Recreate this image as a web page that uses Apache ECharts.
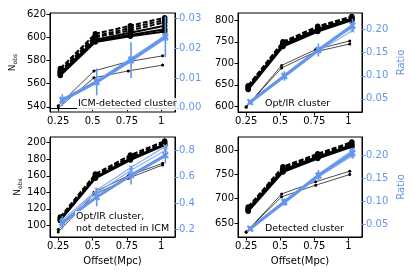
<!DOCTYPE html>
<html><head><meta charset="utf-8">
<script src="https://cdn.jsdelivr.net/npm/echarts@6/dist/echarts.min.js"></script>
<style>html,body{margin:0;padding:0;background:#fff}#c{width:415px;height:277px}</style>
</head><body><div id="c"></div>
<script>
// shared x positions (small horizontal offsets between groups, as in the figure)
const xThin  = [0.25, 0.51, 0.76, 1.01];
const xThick = [0.265, 0.52, 0.775, 1.025];
const xBlue  = [0.28, 0.53, 0.78, 1.03];
const xTicks = [0.25, 0.5, 0.75, 1];
const xTickLabels = ['0.25', '0.5', '0.75', '1'];

// Panel 1: ICM-detected cluster
const p1Label = 'ICM-detected cluster';
const p1Thick = [[573,603,610,617],[571,601,608,615],[570,600,606,613],[569,598,604,610],[568,597,602,607],[567,596,601,605]];
const p1Dashed = [true, true, true, false, false, false];
const p1Thin = [[541,571,579,584],[539,565,571,576]];
const p1Blue = [0.0026, 0.0087, 0.0160, 0.0238];
const p1BlueErr = [0.002, 0.0045, 0.006, 0.0068];
const p1BlueAlt = [[0.0022,0.0083,0.0155,0.0232],[0.0030,0.0091,0.0166,0.0243]];
const p1LeftTicks = [540, 560, 580, 600, 620];
const p1RightTicks = [0, 0.01, 0.02, 0.03];

// Panel 2: Opt/IR cluster
const p2Label = 'Opt/IR cluster';
const p2Thick = [[648,750,786,809],[646,747,783,807],[643,744,780,804],[641,741,777,802],[639,739,774,800]];
const p2Dashed = [true, true, false, false, false];
const p2Thin = [[598,695,732,752],[599,689,727,745]];
const p2Blue = [0.043, 0.0995, 0.156, 0.209];
const p2BlueErr = [0.005, 0.01, 0.014, 0.014];
const p2BlueAlt = [[0.041,0.097,0.153,0.198],[0.045,0.102,0.158,0.204]];
const p2LeftTicks = [600, 650, 700, 750, 800];
const p2RightTicks = [0.05, 0.10, 0.15, 0.20];

// Panel 3: Opt/IR cluster, not detected in ICM
const p3Label = 'Opt/IR cluster,\nnot detected in ICM';
const p3Thick = [[110,162,185,202],[108,160,183,200],[107,158,181,198],[106,157,179,197]];
const p3Dashed = [true, true, false, false];
const p3Thin = [[92,137,157,173],[95,140,160,175]];
const p3Blue = [0.253, 0.447, 0.611, 0.762];
const p3BlueErr = [0.05, 0.07, 0.07, 0.06];
const p3BlueAlt = [[0.27,0.50,0.67,0.83],[0.26,0.48,0.65,0.80]];
const p3LeftTicks = [100, 120, 140, 160, 180, 200];
const p3RightTicks = [0.2, 0.4, 0.6, 0.8];

// Panel 4: Detected cluster
const p4Label = 'Detected cluster';
const p4Thick = [[683,766,793,817],[680,763,790,814],[678,760,787,811],[676,757,785,809],[674,755,783,807]];
const p4Dashed = [true, true, false, false, false];
const p4Thin = [[631,710,735,757],[632,704,728,750]];
const p4Blue = [0.0406, 0.0986, 0.1565, 0.205];
const p4BlueErr = [0.004, 0.008, 0.012, 0.012];
const p4BlueAlt = [[0.039,0.096,0.153,0.199],[0.042,0.101,0.159,0.211]];
const p4LeftTicks = [650, 700, 750, 800];
const p4RightTicks = [0.05, 0.10, 0.15, 0.20];

const BLUE = '#6495ED';
const FONT = 'DejaVu Sans';

const panels = [
  {label:p1Label, thick:p1Thick, dashed:p1Dashed, thin:p1Thin, blue:p1Blue, err:p1BlueErr, alt:p1BlueAlt,
   lt:p1LeftTicks, rt:p1RightTicks, lmin:535.5, lmax:621, rmin:-0.0014, rmax:0.0318, rdec:2,
   grid:{left:50, top:13, width:125, height:99}, nobs:true, ratio:false, xname:false, nobsGap:32, lx:77, ly:98},
  {label:p2Label, thick:p2Thick, dashed:p2Dashed, thin:p2Thin, blue:p2Blue, err:p2BlueErr, alt:p2BlueAlt,
   lt:p2LeftTicks, rt:p2RightTicks, lmin:586.7, lmax:817, rmin:0.0216, rmax:0.236, rdec:2,
   grid:{left:238, top:13, width:124, height:99}, nobs:false, ratio:true, xname:false, lx:264, ly:98},
  {label:p3Label, thick:p3Thick, dashed:p3Dashed, thin:p3Thin, blue:p3Blue, err:p3BlueErr, alt:p3BlueAlt,
   lt:p3LeftTicks, rt:p3RightTicks, lmin:85.9, lmax:206.9, rmin:0.1445, rmax:0.901, rdec:1,
   grid:{left:50, top:137, width:125, height:100}, nobs:true, ratio:false, xname:true, nobsGap:26, lx:75, ly:211},
  {label:p4Label, thick:p4Thick, dashed:p4Dashed, thin:p4Thin, blue:p4Blue, err:p4BlueErr, alt:p4BlueAlt,
   lt:p4LeftTicks, rt:p4RightTicks, lmin:621, lmax:827.5, rmin:0.0225, rmax:0.24, rdec:2,
   grid:{left:238, top:137, width:124, height:100}, nobs:false, ratio:true, xname:true, lx:264, ly:223}
];

const XMARK = 'path://M0,2 L2,0 L5,3 L8,0 L10,2 L7,5 L10,8 L8,10 L5,7 L2,10 L0,8 L3,5 Z';

const grids = [], xAxes = [], yAxes = [], series = [], graphics = [];
panels.forEach((p, i) => {
  grids.push(Object.assign({show:true, borderColor:'#000', borderWidth:1, containLabel:false}, p.grid));
  xAxes.push({
    type:'value', gridIndex:i, min:0.19, max:1.1,
    name: p.xname ? 'Offset(Mpc)' : '', nameLocation:'middle', nameGap:19,
    nameTextStyle:{fontFamily:FONT, fontSize:10, color:'#000'},
    axisLine:{show:true, lineStyle:{color:'#000', width:1}},
    axisTick:{show:true, length:3.5, lineStyle:{color:'#000'}, customValues:xTicks},
    axisLabel:{show:true, fontFamily:FONT, fontSize:10, color:'#000', margin:4, customValues:xTicks,
      formatter:(v)=>xTickLabels[xTicks.indexOf(v)] ?? String(v)},
    splitLine:{show:false}
  });
  yAxes.push({
    type:'value', gridIndex:i, position:'left', min:p.lmin, max:p.lmax,
    name: p.nobs ? '{a|N}{b|obs}' : '', nameLocation:'middle', nameGap:p.nobsGap || 30, nameRotate:90,
    nameTextStyle:{fontFamily:FONT, color:'#000', rich:{a:{fontFamily:FONT, fontSize:9, color:'#000'}, b:{fontFamily:FONT, fontSize:6, color:'#000', verticalAlign:'bottom', padding:[4,0,0,0]}}},
    axisLine:{show:true, lineStyle:{color:'#000', width:1}},
    axisTick:{show:true, length:3.5, lineStyle:{color:'#000'}, customValues:p.lt},
    axisLabel:{show:true, fontFamily:FONT, fontSize:10, color:'#000', margin:4, customValues:p.lt},
    splitLine:{show:false}
  });
  yAxes.push({
    type:'value', gridIndex:i, position:'right', min:p.rmin, max:p.rmax,
    name: p.ratio ? 'Ratio' : '', nameLocation:'middle', nameGap:34, nameRotate:90,
    nameTextStyle:{fontFamily:FONT, fontSize:10, color:BLUE},
    axisLine:{show:true, lineStyle:{color:'#000', width:1}},
    axisTick:{show:true, length:3.5, lineStyle:{color:BLUE}, customValues:p.rt},
    axisLabel:{show:true, fontFamily:FONT, fontSize:10, color:BLUE, margin:4, customValues:p.rt,
      formatter:(v)=>v.toFixed(p.rdec)},
    splitLine:{show:false}
  });
  const yl = 2*i, yr = 2*i+1;
  p.thin.forEach(arr => series.push({
    type:'line', xAxisIndex:i, yAxisIndex:yl, data:arr.map((v,k)=>[xThin[k], v]),
    symbol:'circle', symbolSize:3, lineStyle:{color:'#000', width:0.7}, itemStyle:{color:'#000'},
    silent:true, animation:false, z:2
  }));
  p.thick.forEach((arr, j) => series.push({
    type:'line', xAxisIndex:i, yAxisIndex:yl, data:arr.map((v,k)=>[xThick[k], v]),
    symbol:'circle', symbolSize:5.5, lineStyle:{color:'#000', width:2, type:p.dashed[j] ? [5,2] : 'solid'},
    itemStyle:{color:'#000'}, silent:true, animation:false, z:3
  }));
  p.alt.forEach(arr => series.push({
    type:'line', xAxisIndex:i, yAxisIndex:yr, data:arr.map((v,k)=>[xBlue[k], v]),
    symbol:XMARK, symbolSize:5, lineStyle:{color:'#8fb0f0', width:1.2}, itemStyle:{color:'#8fb0f0'},
    silent:true, animation:false, z:4
  }));
  series.push({
    type:'line', xAxisIndex:i, yAxisIndex:yr, data:p.blue.map((v,k)=>[xBlue[k], v]),
    symbol:XMARK, symbolSize:7, lineStyle:{color:BLUE, width:3}, itemStyle:{color:BLUE},
    silent:true, animation:false, z:5
  });
  series.push({
    type:'custom', xAxisIndex:i, yAxisIndex:yr, coordinateSystem:'cartesian2d',
    data:p.blue.map((v,k)=>[xBlue[k], v - p.err[k], v + p.err[k]]),
    encode:{x:0, y:[1,2]}, silent:true, animation:false, z:5,
    renderItem:(params, api)=>{
      const a = api.coord([api.value(0), api.value(1)]);
      const b = api.coord([api.value(0), api.value(2)]);
      return {type:'line', shape:{x1:a[0], y1:a[1], x2:b[0], y2:b[1]}, style:{stroke:BLUE, lineWidth:1.6}};
    }
  });
  graphics.push({
    type:'text', left:p.lx, top:p.ly, z:100,
    style:{text:p.label, fontFamily:FONT, fontSize:9.5, fill:'#000', lineHeight:12,
      backgroundColor:'rgba(255,255,255,0.85)', padding:[0,1,0,1]}
  });
});

const chart = echarts.init(document.getElementById('c'), null, {renderer:'canvas'});
chart.setOption({
  animation:false, backgroundColor:'#fff',
  grid:grids, xAxis:xAxes, yAxis:yAxes, series:series, graphic:graphics
});
</script>
</body></html>
